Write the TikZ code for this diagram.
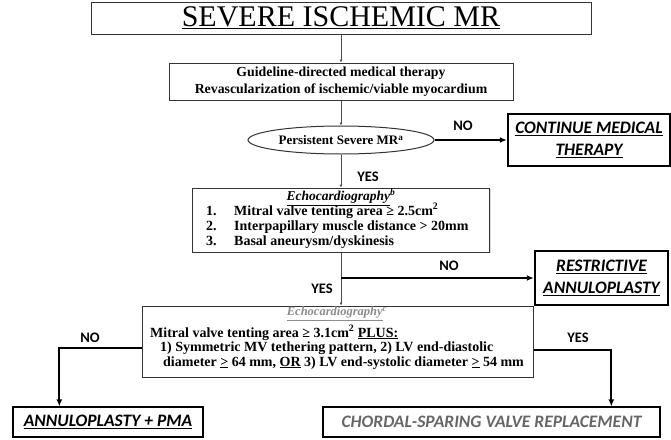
\documentclass[tikz,border=0pt]{standalone}
\usepackage{fontspec}
\setmainfont{Liberation Serif}
\newfontfamily\calfont{Carlito}
\usetikzlibrary{arrows.meta,shadows,shapes.geometric}
\begin{document}
\begin{tikzpicture}[x=1pt,y=-1pt,
  shade/.style={drop shadow={shadow xshift=1.3pt,shadow yshift=-1.3pt,fill=black!30}},
  thinbox/.style={draw=black!80, line width=1pt, fill=white, inner sep=0pt, shade},
  thickbox/.style={draw=black, line width=2.4pt, fill=white, inner sep=0pt, shade},
  outbox/.style={draw=black, line width=1.3pt, fill=white, inner sep=0pt, shade},
  link/.style={draw=black!70, line width=0.8pt, -{Latex[length=3pt,width=3pt]}},
  flow/.style={draw=black, line width=1.8pt, -{Latex[length=7pt,width=6pt]}},
  lbl/.style={font=\calfont\bfseries\fontsize{14.5}{14.5}\selectfont},
  outtxt/.style={font=\calfont\bfseries\itshape\fontsize{17.5}{22}\selectfont, align=center},
  body/.style={font=\bfseries\fontsize{14}{15}\selectfont, inner sep=0pt}
]
\useasboundingbox (0,0) rectangle (671,439);

% title
\node[thinbox, minimum width=500pt, minimum height=32pt] (title) at (341,18)
  {\fontsize{30}{30}\selectfont\underline{SEVERE ISCHEMIC MR}};

% GDMT box
\node[thinbox, minimum width=344pt, minimum height=37pt, align=center,
  font=\bfseries\fontsize{13.8}{17}\selectfont] (gdmt) at (341,81.5)
  {Guideline-directed medical therapy\\Revascularization of ischemic/viable myocardium};

% ellipse
\node[ellipse, draw=black!80, line width=1pt, fill=white, minimum width=186pt, minimum height=28pt,
  inner sep=0pt, font=\bfseries\fontsize{13}{13}\selectfont] (mr) at (341,140)
  {Persistent Severe MR\textsuperscript{a}};

% continue box
\node[thickbox, minimum width=162pt, minimum height=52pt, outtxt] (cont) at (589,140)
  {\underline{CONTINUE MEDICAL}\\\underline{THERAPY}};

% echo 1
\node[thinbox, minimum width=297pt, minimum height=64pt] (echo1) at (341,220) {};
\node[font=\bfseries\itshape\fontsize{13.5}{13.5}\selectfont, inner sep=0pt] (e1t) at (341,197)
  {\underline{Echocardiography}\textsuperscript{b}};
\node[body, anchor=base west] (n1) at (206,215) {1.};
\node[body, anchor=base west] (i1) at (234,215) {Mitral valve tenting area ≥ 2.5cm\textsuperscript{2}};
\node[body, anchor=base west] (n2) at (206,230) {2.};
\node[body, anchor=base west] (i2) at (234,230) {Interpapillary muscle distance > 20mm};
\node[body, anchor=base west] (n3) at (206,245) {3.};
\node[body, anchor=base west] (i3) at (234,245) {Basal aneurysm/dyskinesis};

% restrictive
\node[thickbox, minimum width=133pt, minimum height=54pt, outtxt] (restr) at (601.5,278)
  {\underline{RESTRICTIVE}\\\underline{ANNULOPLASTY}};

% echo 2
\node[thinbox, minimum width=391pt, minimum height=71pt] (echo2) at (337.5,341.5) {};
\node[font=\bfseries\itshape\fontsize{12.5}{12.5}\selectfont, text=black!45, inner sep=0pt] (e2t) at (337,314)
  {\underline{Echocardiography}\textsuperscript{c}};
\node[body, anchor=base west] (l1) at (150,337) {Mitral valve tenting area ≥ 3.1cm\textsuperscript{2} \underline{PLUS:}};
\node[body, anchor=base west] (l2) at (160,351.5) {1) Symmetric MV tethering pattern, 2) LV end-diastolic};
\node[body, anchor=base west] (l3) at (163,366) {diameter \underline{>} 64 mm, \underline{OR} 3) LV end-systolic diameter \underline{>} 54 mm};

% outcomes
\node[outbox, minimum width=190pt, minimum height=30pt, outtxt] (annu) at (108,422)
  {\underline{ANNULOPLASTY + PMA}};
\node[outbox, minimum width=337pt, minimum height=30pt,
  font=\calfont\bfseries\itshape\fontsize{17.5}{17.5}\selectfont, text=black!60] (chord) at (491.5,422)
  {CHORDAL-SPARING VALVE REPLACEMENT};

% connectors
\draw[link] (title.south) -- (gdmt.north);
\draw[link] (gdmt.south) -- (mr.north);
\draw[link] (mr.south) -- (echo1.north);
\draw[link] (echo1.south) -- (echo1.south |- echo2.north);
\draw[flow] (mr.east) -- (cont.west);
\coordinate (br1) at (echo1.south |- restr.west);
\draw[flow] (br1) -- (restr.west);
\draw[flow] ([yshift=-6.5pt]echo2.west) -| ([xshift=47pt]annu.north west);
\draw[flow] ([yshift=-8.5pt]echo2.east) -| ([xshift=289pt]chord.north west);

% labels
\node[lbl] (no1) at (463,126) {NO};
\node[lbl] (yes1) at (368,177) {YES};
\node[lbl] (no2) at (449,266) {NO};
\node[lbl] (yes2) at (322,289) {YES};
\node[lbl] (no3) at (90,338) {NO};
\node[lbl] (yes3) at (578,338) {YES};
\end{tikzpicture}
\end{document}
